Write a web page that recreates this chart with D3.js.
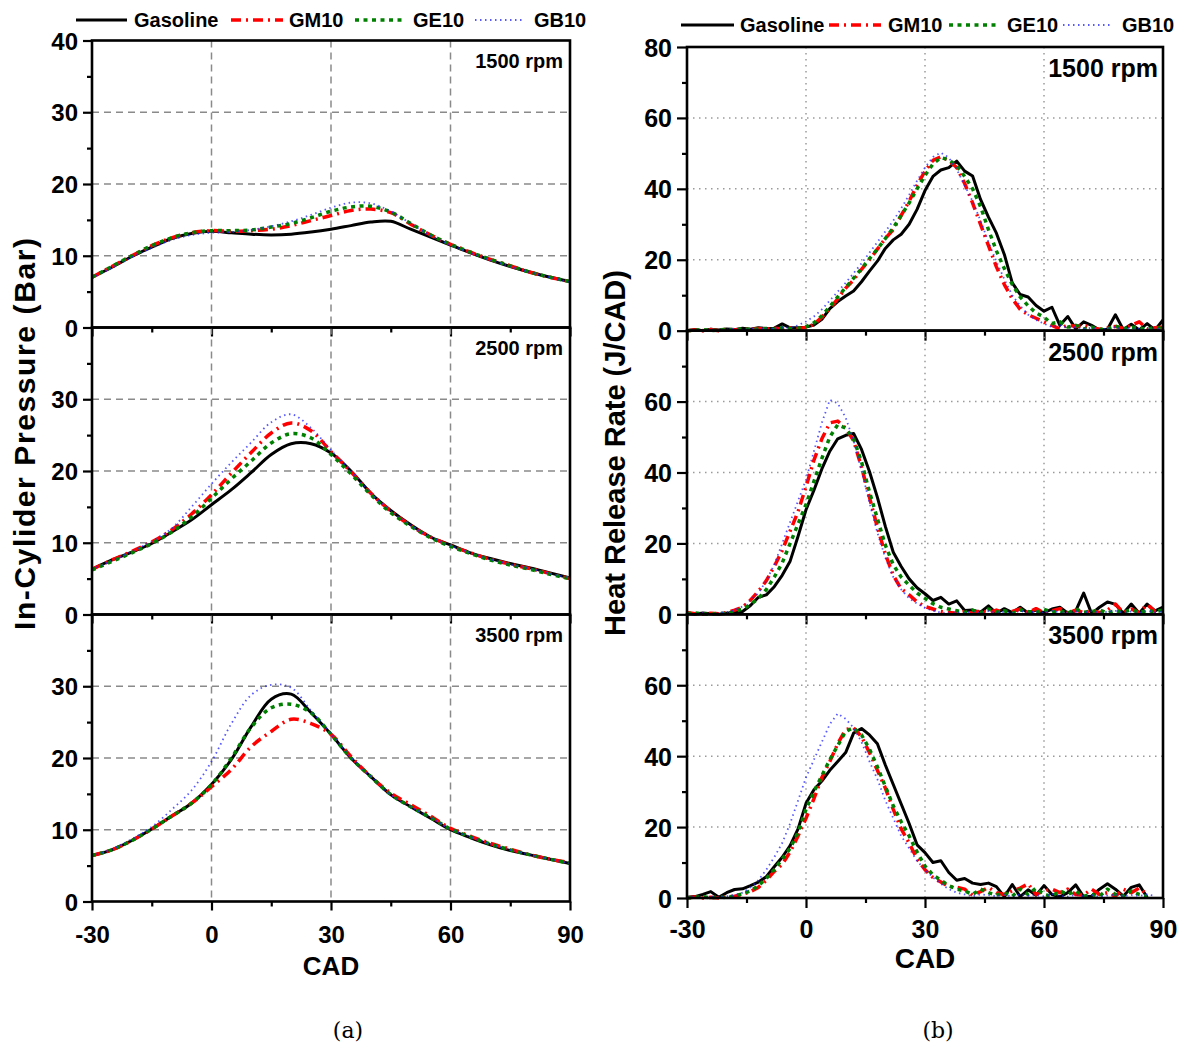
<!DOCTYPE html>
<html><head><meta charset="utf-8">
<script src="https://cdn.jsdelivr.net/npm/d3@7"></script>
<style>
body{margin:0;background:#fff;}
svg text{font-family:"Liberation Sans",Arial,sans-serif;font-weight:bold;fill:#000;}
</style></head><body>
<svg id="chart" width="1185" height="1048"></svg>
<script>
// ---------------- DATA ----------------
const seriesNames = ["Gasoline","GM10","GE10","GB10"];
const speedLabels = ["1500 rpm","2500 rpm","3500 rpm"];
const xTicksMajor = [-30,0,30,60,90];
const xTicksMinor = [-15,15,45,75];

// In-cylinder pressure (Bar) vs CAD
const pCad = [-30,-25,-20,-15,-10,-5,0,5,10,15,20,25,30,35,40,45,50,55,60,65,70,75,80,85,90];
const p1500_Gasoline = [7.0,8.4,9.9,11.2,12.4,13.1,13.4,13.2,13.0,12.9,13.0,13.3,13.7,14.2,14.7,14.8,13.7,12.6,11.5,10.4,9.4,8.5,7.7,7.0,6.4];
const p1500_GM10     = [7.0,8.5,10.0,11.4,12.5,13.2,13.5,13.4,13.5,13.7,14.2,14.9,15.6,16.3,16.5,16.0,14.4,12.9,11.6,10.5,9.5,8.6,7.7,7.0,6.4];
const p1500_GE10     = [7.0,8.5,10.0,11.4,12.5,13.2,13.5,13.5,13.6,14.0,14.5,15.3,16.2,16.8,16.9,16.1,14.5,12.9,11.6,10.5,9.5,8.6,7.7,7.0,6.4];
const p1500_GB10     = [6.9,8.3,9.8,11.1,12.2,12.9,13.2,13.3,13.6,14.1,14.8,15.7,16.7,17.4,17.3,16.2,14.5,12.8,11.5,10.4,9.4,8.5,7.7,7.0,6.3];

const p2500_Gasoline = [6.3,7.6,8.7,9.9,11.5,13.2,15.3,17.4,19.8,22.3,23.8,23.8,22.5,20.0,16.9,14.5,12.5,10.8,9.7,8.6,7.8,7.1,6.5,5.8,5.1];
const p2500_GM10     = [6.3,7.6,8.8,10.1,11.8,14.0,16.7,19.7,22.6,25.3,26.7,25.6,22.7,19.9,16.9,14.4,12.4,10.8,9.6,8.6,7.7,7.0,6.4,5.7,5.0];
const p2500_GE10     = [6.2,7.4,8.6,9.9,11.5,13.6,16.2,18.9,21.4,23.9,25.2,24.6,22.3,19.6,16.7,14.2,12.3,10.7,9.5,8.5,7.6,6.9,6.3,5.6,5.0];
const p2500_GB10     = [6.3,7.5,8.8,10.2,12.0,15.0,18.2,21.2,24.0,26.8,27.9,26.0,22.9,20.0,16.9,14.4,12.4,10.8,9.6,8.6,7.7,7.0,6.4,5.7,5.1];

const p3500_Gasoline = [6.4,7.2,8.5,10.1,11.9,13.7,16.3,19.8,24.4,28.2,28.9,26.3,23.3,20.0,17.4,14.9,13.2,11.6,10.0,8.9,7.9,7.1,6.5,5.9,5.3];
const p3500_GM10     = [6.4,7.2,8.5,10.1,11.9,13.7,16.0,18.4,21.6,23.7,25.4,24.8,23.3,20.2,17.4,15.1,13.5,11.9,10.2,9.1,8.1,7.3,6.5,5.9,5.4];
const p3500_GE10     = [6.4,7.2,8.5,10.1,11.9,13.7,16.3,20.0,24.3,27.0,27.5,26.3,23.3,20.0,17.4,14.9,13.2,11.7,10.1,9.0,8.0,7.2,6.5,5.9,5.3];
const p3500_GB10     = [6.4,7.3,8.7,10.4,12.8,15.5,19.5,24.8,28.8,30.2,29.8,26.6,23.4,20.1,17.4,14.9,13.2,11.7,10.1,9.0,8.0,7.2,6.5,5.9,5.3];

// Heat release rate (J/CAD) vs CAD
const hCad = [-30,-28,-26,-24,-22,-20,-18,-16,-14,-12,-10,-8,-6,-4,-2,0,2,4,6,8,10,12,14,16,18,20,22,24,26,28,30,32,34,36,38,40,42,44,46,48,50,52,54,56,58,60,62,64,66,68,70,72,74,76,78,80,82,84,86,88,90];

const h1500_Gasoline = [0.0,0.3,0.0,0.4,0.2,0.5,0.3,0.7,0.4,0.8, 0.6,0.7,1.9,0.8,0.8,1.0,1.6,3.2,6.2,8.2, 9.8,11.2,13.8,16.8,19.6,23.2,25.6,27.2,30.0,34.2, 39.5,43.5,45.3,46.0,47.8,45.0,43.6,37.0,32.0,27.5, 21.5,13.5,10.2,9.5,7.1,5.5,6.6,1.5,4.0,0.5, 2.5,1.5,0.2,0.4,4.5,0.3,1.8,0.2,2.0,0.2, 3.0];
const h1500_GM10     = [0.0,0.2,0.0,0.3,0.0,0.4,0.2,0.5,0.3,0.6, 0.4,0.7,0.5,0.8,0.6,0.9,1.8,3.8,6.2,9.0, 12.0,14.3,17.3,20.0,23.0,26.0,28.5,32.5,36.5,41.0, 45.0,48.0,49.0,48.0,46.0,41.5,36.0,30.0,24.0,18.0, 13.0,9.0,6.0,4.5,3.5,2.5,1.5,0.5,1.6,1.2, 1.5,0.8,0.4,0.8,1.2,0.6,1.5,2.5,0.5,0.8, 1.0];
const h1500_GE10     = [0.0,0.1,0.3,0.0,0.2,0.4,0.1,0.6,0.3,0.5, 0.6,0.4,0.8,0.6,0.7,1.1,2.2,4.2,6.8,9.5, 12.2,14.8,17.5,20.3,23.0,26.0,29.0,32.5,36.0,40.0, 43.8,47.0,48.8,48.2,46.5,43.5,40.0,35.0,28.5,22.5, 17.5,13.0,9.5,7.0,5.0,3.8,2.0,2.5,1.0,1.5, 0.5,1.0,0.3,0.5,1.3,0.5,1.0,0.8,0.3,1.0, 0.5];
const h1500_GB10     = [0.0,0.2,0.1,0.3,0.1,0.3,0.5,0.2,0.6,0.4, 0.7,0.5,0.9,0.8,1.5,2.6,4.0,6.0,8.5,11.0, 13.5,16.2,19.0,22.0,25.0,28.0,31.0,34.5,38.3,42.3, 46.0,49.0,50.2,48.8,45.5,41.0,36.5,31.0,25.0,19.5, 14.5,10.0,7.0,4.5,3.0,2.0,1.0,1.5,0.8,1.0, 0.5,0.8,0.3,0.6,1.0,0.4,0.8,0.5,0.3,0.6, 0.4];

const h2500_Gasoline = [0.3,0.0,0.4,0.2,0.0,0.3,0.5,0.8,2.5,4.8, 5.5,7.8,11.0,15.0,22.0,29.5,35.0,41.0,46.0,49.5, 50.5,51.0,46.5,40.3,33.0,24.8,17.5,13.5,10.0,7.5, 5.8,3.9,4.8,2.9,3.8,1.1,1.2,0.6,2.4,0.3, 1.6,0.5,2.0,0.4,1.2,0.5,1.5,2.0,0.3,1.0, 6.0,0.2,2.0,3.5,2.8,0.3,2.9,0.3,2.9,1.0, 2.0];
const h2500_GM10     = [0.5,0.2,0.0,0.3,0.2,0.5,1.2,2.0,4.0,6.5, 9.5,13.5,18.0,23.5,29.0,36.0,43.5,49.5,54.0,54.5, 52.5,49.0,41.5,33.0,24.5,17.0,11.0,7.2,5.5,3.5, 2.2,1.5,0.8,0.5,0.3,0.8,0.3,1.0,0.5,1.2, 0.4,0.8,1.5,0.5,1.6,0.4,1.0,1.6,0.4,1.2, 0.5,1.0,0.5,1.2,2.9,0.5,1.5,0.5,2.8,0.8, 1.0];
const h2500_GE10     = [0.2,0.4,0.1,0.0,0.3,0.2,0.8,1.5,2.8,4.5, 7.0,10.5,14.5,20.0,25.5,31.0,37.5,44.0,50.0,53.5, 52.5,49.5,43.0,34.5,27.0,19.5,14.0,10.5,8.2,6.0, 4.5,3.0,2.0,1.5,1.0,0.5,1.2,0.4,1.5,0.6, 1.0,0.3,1.2,0.8,0.5,1.4,0.6,1.0,0.3,1.5, 0.6,0.8,1.2,0.4,1.0,0.6,1.3,0.5,1.0,0.8, 1.2];
const h2500_GB10     = [0.2,0.1,0.3,0.0,0.4,0.6,1.2,2.2,4.0,6.0, 9.5,14.0,20.0,26.0,32.0,38.0,46.0,54.0,60.5,59.5, 55.5,49.0,40.5,31.5,23.0,16.0,10.5,7.0,4.5,3.0, 1.8,1.0,0.5,0.3,0.6,0.4,0.8,0.3,0.9,0.5, 0.7,0.3,1.0,0.5,0.8,0.4,1.0,0.6,0.3,0.8, 0.5,0.9,0.4,0.7,1.0,0.5,0.8,0.4,1.0,0.6, 0.8];

const h3500_Gasoline = [0.2,0.4,1.0,1.8,0.2,1.5,2.4,2.6,3.5,4.5, 6.0,8.8,11.5,14.8,19.5,26.7,30.5,33.0,36.0,38.5, 41.0,46.5,47.8,46.0,43.5,37.5,32.0,26.5,21.0,15.0, 12.8,10.0,10.5,7.2,5.0,5.5,4.2,3.8,4.2,3.2, 0.4,3.8,0.4,2.3,0.8,3.5,1.0,0.3,1.5,3.7, 0.3,0.5,2.5,4.0,2.5,0.5,3.0,3.7,0.2,null, null];
const h3500_GM10     = [0.0,0.3,0.0,0.2,0.0,0.3,0.5,1.0,1.8,3.0, 5.0,7.5,9.5,13.0,17.5,22.5,28.0,34.0,38.5,43.5, 47.5,48.0,45.5,41.0,36.0,31.0,25.0,19.5,15.5,11.0, 8.0,5.8,4.5,3.2,3.0,2.5,0.8,1.8,3.0,1.5, 1.0,2.0,2.8,4.0,1.0,2.0,2.5,1.5,2.5,1.0, 0.8,2.5,1.0,1.5,0.5,2.5,1.5,2.8,1.0,null, null];
const h3500_GE10     = [0.0,0.2,0.4,0.0,0.3,0.1,0.6,1.2,2.0,3.5, 5.5,8.0,11.0,14.0,18.5,25.0,30.0,34.5,39.0,43.0, 47.0,48.0,46.0,42.0,37.0,31.5,26.0,21.5,17.5,13.0, 9.0,6.5,5.0,3.5,2.5,2.0,1.0,2.5,1.5,0.8, 1.5,0.5,2.5,1.0,2.8,1.0,0.5,2.0,1.0,2.0, 0.5,1.0,0.5,2.5,1.0,0.5,2.0,1.0,0.5,null, null];
const h3500_GB10     = [0.1,0.3,0.0,0.4,0.2,0.5,0.8,1.5,3.0,5.0, 8.0,11.5,15.5,21.0,27.5,34.0,39.0,44.0,49.0,52.0, 50.5,48.0,44.0,38.5,33.5,27.5,22.5,17.5,14.0,10.5, 8.0,5.8,4.0,2.5,1.5,1.0,0.5,1.0,0.8,0.5, 0.9,0.4,1.0,0.6,0.8,0.5,1.1,0.6,0.4,0.9, 0.5,0.8,0.4,0.7,1.0,0.5,0.8,0.6,1.0,0.6, null];

// ---------------- STYLES ----------------
const lineStyle = {
  Gasoline: {color:"#000000", width:3,   dash:null},
  GM10:     {color:"#ff0000", width:3.5, dash:"10,5,2,5"},
  GE10:     {color:"#008000", width:3.5, dash:"4,4.5"},
  GB10:     {color:"#2020ff", width:1.8, dash:"1.5,3.5", opacity:0.75}
};

const svg = d3.select("#chart");

const pressure = [
  [p1500_Gasoline,p1500_GM10,p1500_GE10,p1500_GB10],
  [p2500_Gasoline,p2500_GM10,p2500_GE10,p2500_GB10],
  [p3500_Gasoline,p3500_GM10,p3500_GE10,p3500_GB10]
];
const hrr = [
  [h1500_Gasoline,h1500_GM10,h1500_GE10,h1500_GB10],
  [h2500_Gasoline,h2500_GM10,h2500_GE10,h2500_GB10],
  [h3500_Gasoline,h3500_GM10,h3500_GE10,h3500_GB10]
];

const fmt = d => String(d);   // plain hyphen-minus like the reference

function drawChart(cfg){
  const x = d3.scaleLinear().domain([-30,90]).range([cfg.x0, cfg.x1]);
  const ph = (cfg.bottom - cfg.top)/3;
  for (let p=0;p<3;p++){
    const top = cfg.top + p*ph, bot = top + ph;
    const y = d3.scaleLinear().domain([0,cfg.yMax]).range([bot, top]);
    const g = svg.append("g");
    // grid
    const grid = g.append("g");
    cfg.gridX.forEach(v=>grid.append("line").attr("x1",x(v)).attr("x2",x(v)).attr("y1",top).attr("y2",bot)
      .attr("stroke",cfg.gridColor).attr("stroke-width",cfg.gridWidth).attr("stroke-dasharray",cfg.gridDash));
    cfg.gridY.forEach(v=>grid.append("line").attr("x1",cfg.x0).attr("x2",cfg.x1).attr("y1",y(v)).attr("y2",y(v))
      .attr("stroke",cfg.gridColor).attr("stroke-width",cfg.gridWidth).attr("stroke-dasharray",cfg.gridDash));
    // series
    const line = d3.line().defined(d=>d[1]!==null).x(d=>x(d[0])).y(d=>y(d[1])).curve(cfg.curve);
    seriesNames.forEach((name,i)=>{
      const vals = cfg.data[p][i];
      const pts = cfg.xs.map((c,k)=>[c, vals[k]]);
      const st = lineStyle[name];
      g.append("path").attr("d", line(pts)).attr("fill","none")
        .attr("stroke",st.color).attr("stroke-width",st.width)
        .attr("stroke-dasharray",st.dash).attr("stroke-opacity",st.opacity||1)
        .attr("stroke-linejoin","round");
    });
    // y axis
    const yMaj = cfg.yMajor.filter(v=> p===0 || v<cfg.yMax);
    const ax = g.append("g").attr("transform",`translate(${cfg.x0},0)`)
      .call(d3.axisLeft(y).tickValues(yMaj).tickSize(cfg.tickMajor).tickPadding(5).tickFormat(fmt));
    ax.select(".domain").remove();
    ax.selectAll("line").attr("stroke","#000").attr("stroke-width",2.2);
    ax.selectAll("text").style("font-size",cfg.tickFont+"px").attr("dy","0.36em");
    const axm = g.append("g").attr("transform",`translate(${cfg.x0},0)`)
      .call(d3.axisLeft(y).tickValues(cfg.yMinor).tickSize(cfg.tickMinor).tickFormat(""));
    axm.select(".domain").remove();
    axm.selectAll("line").attr("stroke","#000").attr("stroke-width",2.2);
    // x axis
    const bx = g.append("g").attr("transform",`translate(0,${bot})`)
      .call(d3.axisBottom(x).tickValues(xTicksMajor).tickSize(cfg.tickMajor).tickPadding(6).tickFormat(p===2?fmt:""));
    bx.select(".domain").remove();
    bx.selectAll("line").attr("stroke","#000").attr("stroke-width",2.2);
    bx.selectAll("text").style("font-size",cfg.tickFont+"px").attr("y",cfg.xLabelDy).attr("dy",0);
    const bxm = g.append("g").attr("transform",`translate(0,${bot})`)
      .call(d3.axisBottom(x).tickValues(xTicksMinor).tickSize(cfg.tickMinor).tickFormat(""));
    bxm.select(".domain").remove();
    bxm.selectAll("line").attr("stroke","#000").attr("stroke-width",2.2);
    // frame
    g.append("rect").attr("x",cfg.x0).attr("y",top).attr("width",cfg.x1-cfg.x0).attr("height",ph)
      .attr("fill","none").attr("stroke","#000").attr("stroke-width",2.6);
    // speed label
    g.append("text").attr("x",cfg.rpmX).attr("y",top+cfg.rpmDy).attr("text-anchor","end")
      .style("font-size",cfg.rpmFont+"px").text(speedLabels[p]);
  }
  // axis titles
  svg.append("text").attr("x",(cfg.x0+cfg.x1)/2).attr("y",cfg.cadY).attr("text-anchor","middle")
    .style("font-size",cfg.cadFont+"px").text("CAD");
  const yt = svg.append("text").attr("transform",`translate(${cfg.yTitleX},${cfg.yTitleY}) rotate(-90)`)
    .attr("text-anchor","middle").style("font-size",cfg.yTitleFont+"px").text(cfg.yTitle);
  if (cfg.yTitleLen) yt.attr("textLength",cfg.yTitleLen).attr("lengthAdjust","spacing");
  // legend
  const lg = svg.append("g");
  seriesNames.forEach((name,i)=>{
    const st = lineStyle[name];
    const L = cfg.legend[i];
    lg.append("line").attr("x1",L[0]).attr("x2",L[1]).attr("y1",cfg.legendY).attr("y2",cfg.legendY)
      .attr("stroke",st.color).attr("stroke-width",st.width).attr("stroke-dasharray",st.dash)
      .attr("stroke-opacity",st.opacity||1);
    lg.append("text").attr("x",L[2]).attr("y",cfg.legendY+7).style("font-size",cfg.legendFont+"px").text(name);
  });
  // caption
  svg.append("text").attr("x",cfg.capX).attr("y",1038).attr("text-anchor","middle")
    .style("font-family","'DejaVu Serif','Liberation Serif',serif").style("font-weight","normal")
    .style("font-size","22px").text(cfg.caption);
}

drawChart({
  x0:92, x1:570, top:40.5, bottom:901.5, yMax:40,
  yMajor:[0,10,20,30,40], yMinor:[5,15,25,35],
  gridX:[0,30,60], gridY:[10,20,30], gridColor:"#8a8a8a", gridWidth:1.5, gridDash:"7,5",
  xs:pCad, data:pressure, curve:d3.curveCatmullRom.alpha(0.5),
  tickMajor:9, tickMinor:5, tickFont:24, xLabelDy:41,
  rpmX:563, rpmDy:27, rpmFont:20,
  cadY:975, cadFont:26, yTitle:"In-Cylider Pressure (Bar)", yTitleX:35, yTitleY:434, yTitleFont:30, yTitleLen:392,
  legend:[[76,127,134],[231,283,289],[355,403,413],[475,524,534]], legendY:20, legendFont:20,
  capX:348, caption:"(a)"
});
drawChart({
  x0:687, x1:1163, top:47, bottom:898, yMax:80,
  yMajor:[0,20,40,60,80], yMinor:[10,30,50,70],
  gridX:[0,30,60], gridY:[20,40,60], gridColor:"#9a9a9a", gridWidth:1.5, gridDash:"1.5,4.5",
  xs:hCad, data:hrr, curve:d3.curveLinear,
  tickMajor:10, tickMinor:5, tickFont:25, xLabelDy:40,
  rpmX:1158, rpmDy:30, rpmFont:25,
  cadY:968, cadFont:28, yTitle:"Heat Release Rate (J/CAD)", yTitleX:625, yTitleY:453, yTitleFont:29,
  legend:[[681,734,740],[829,881,888],[949,996,1007],[1063,1112,1122]], legendY:25, legendFont:20,
  capX:938, caption:"(b)"
});
</script>
</body></html>
